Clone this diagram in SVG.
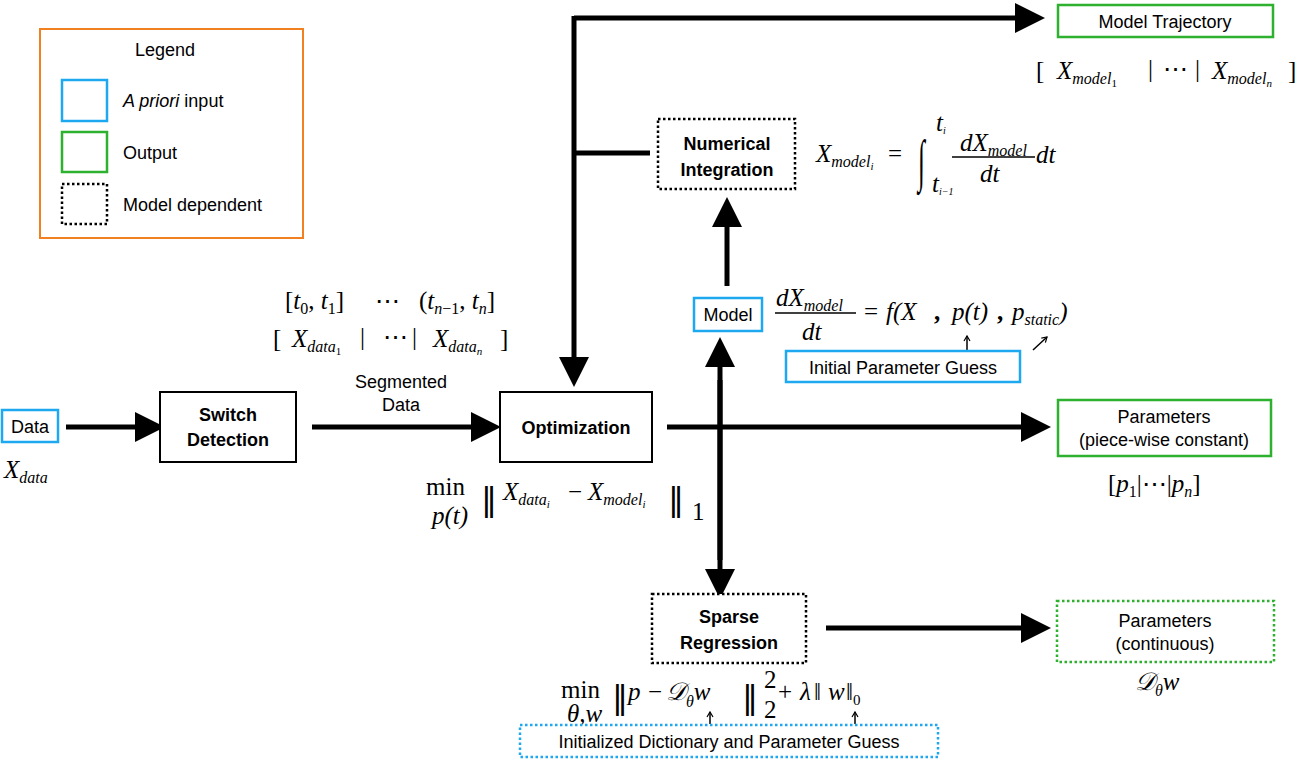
<svg xmlns="http://www.w3.org/2000/svg" width="1301" height="762" viewBox="0 0 1301 762">
<defs>
<marker id="ah" markerWidth="6" markerHeight="6" refX="1" refY="3" orient="auto" markerUnits="strokeWidth"><path d="M0,0 L6,3 L0,6 z" fill="#000"/></marker>
<marker id="sa" markerWidth="8" markerHeight="8" refX="6" refY="4" orient="auto" markerUnits="userSpaceOnUse"><path d="M1,1 L6,4 L1,7" fill="none" stroke="#000" stroke-width="1.2"/></marker>
<style>
.s{font-family:"Liberation Sans",Arial,sans-serif;font-size:18px;fill:#000;text-anchor:middle}
.b{font-weight:bold}
.m{font-family:"Liberation Serif","Times New Roman",serif;font-size:25px;font-style:italic;fill:#000}
.mu{font-family:"Liberation Serif","Times New Roman",serif;font-size:25px;fill:#000}
.sub{font-size:16px}
.ss{font-size:11px}
.bar{font-family:"DejaVu Sans",sans-serif;font-size:32px;fill:#000}
.bx{fill:#fff;stroke:#000;stroke-width:2}
.dot{fill:#fff;stroke:#000;stroke-width:2.5;stroke-dasharray:2.5 2.5}
.blue{fill:#fff;stroke:#1ea8f0;stroke-width:2.5}
.bdot{fill:#fff;stroke:#1ea8f0;stroke-width:2.5;stroke-dasharray:2.5 2.5}
.green{fill:#fff;stroke:#2eb12e;stroke-width:2.5}
.gdot{fill:#fff;stroke:#2eb12e;stroke-width:2.5;stroke-dasharray:2.5 2.5}
.c{fill:none;stroke:#000;stroke-width:5}
.t{fill:none;stroke:#000;stroke-width:1.5}
</style>
</defs>
<rect width="1301" height="762" fill="#fff"/>
<g id="legend">
<rect x="40" y="29" width="263" height="209" fill="#fff" stroke="#f08020" stroke-width="2"/>
<text class="s" x="165" y="56">Legend</text>
<rect class="blue" x="62" y="80" width="45" height="41"/>
<rect class="green" x="62" y="132" width="45" height="40"/>
<rect class="dot" x="62" y="184" width="45" height="40"/>
<text class="s" x="123" y="107" style="text-anchor:start"><tspan font-style="italic">A priori</tspan> input</text>
<text class="s" x="123" y="159" style="text-anchor:start">Output</text>
<text class="s" x="123" y="211" style="text-anchor:start">Model dependent</text>
</g>
<g id="connectors">
<line class="c" x1="66" y1="427" x2="140" y2="427" marker-end="url(#ah)"/>
<line class="c" x1="312" y1="427" x2="476" y2="427" marker-end="url(#ah)"/>
<line class="c" x1="667" y1="427" x2="1026" y2="427" marker-end="url(#ah)"/>
<polyline class="c" points="574,18 1020,18" marker-end="url(#ah)"/>
<line class="c" x1="574" y1="16" x2="574" y2="362" marker-end="url(#ah)"/>
<line class="c" x1="574" y1="153" x2="650" y2="153"/>
<line class="c" x1="727" y1="286" x2="727" y2="222" marker-end="url(#ah)"/>
<line class="c" x1="720" y1="560" x2="720" y2="362" marker-end="url(#ah)"/>
<line class="c" x1="720" y1="380" x2="720" y2="574" marker-end="url(#ah)"/>
<line class="c" x1="826" y1="628" x2="1026" y2="628" marker-end="url(#ah)"/>
<line class="t" x1="967" y1="350" x2="967" y2="336" marker-end="url(#sa)"/>
<line class="t" x1="1033" y1="350" x2="1047" y2="337" marker-end="url(#sa)"/>
<line class="t" x1="710" y1="724" x2="710" y2="712" marker-end="url(#sa)"/>
<line class="t" x1="855" y1="724" x2="855" y2="712" marker-end="url(#sa)"/>
</g>
<g id="data"><rect class="blue" x="2" y="410" width="56" height="32"/><text class="s" x="30" y="433">Data</text>
<text class="m" x="4" y="478">X<tspan class="sub" dy="5">data</tspan></text></g>
<g id="switch"><rect class="bx" x="160" y="392" width="136" height="70"/><text class="s b" x="228" y="421">Switch</text><text class="s b" x="228" y="446">Detection</text></g>
<g id="segmented"><text class="s" x="401" y="388">Segmented</text><text class="s" x="401" y="411">Data</text>
<text class="mu" x="285" y="309">[<tspan font-style="italic">t</tspan><tspan class="sub" dy="5">0</tspan><tspan dy="-5">, </tspan><tspan font-style="italic">t</tspan><tspan class="sub" dy="5">1</tspan><tspan dy="-5">]</tspan></text>
<text class="mu" x="375" y="309">⋯</text>
<text class="mu" x="419" y="309">(<tspan font-style="italic">t</tspan><tspan class="sub" dy="5" font-style="italic">n</tspan><tspan class="sub">−1</tspan><tspan dy="-5">, </tspan><tspan font-style="italic">t</tspan><tspan class="sub" dy="5" font-style="italic">n</tspan><tspan dy="-5">]</tspan></text>
<text class="mu" x="273" y="347">[</text>
<text class="m" x="292" y="347">X<tspan class="sub" dy="5">data</tspan><tspan class="ss" font-style="normal" dy="3">1</tspan></text>
<text class="mu" x="360" y="345" font-size="14">|</text><text class="mu" x="383" y="345" font-size="14">⋯</text><text class="mu" x="412" y="345" font-size="14">|</text>
<text class="m" x="433" y="347">X<tspan class="sub" dy="5">data</tspan><tspan class="ss" dy="3">n</tspan></text>
<text class="mu" x="500" y="347">]</text></g>
<g id="optimization"><rect class="bx" x="500" y="392" width="152" height="70"/><text class="s b" x="576" y="434">Optimization</text>
<text class="mu" x="426" y="495">min</text><text class="m" x="432" y="524" font-size="15">p(t)</text>
<text class="bar" x="481" y="510">‖</text>
<text class="m" x="503" y="500">X<tspan class="sub" dy="5">data</tspan><tspan class="ss" dy="3">i</tspan></text>
<text class="mu" x="568" y="500">−</text>
<text class="m" x="588" y="500">X<tspan class="sub" dy="5">model</tspan><tspan class="ss" dy="3">i</tspan></text>
<text class="bar" x="668" y="510">‖</text>
<text class="mu" x="692" y="520" font-size="16">1</text></g>
<g id="trajectory"><rect class="green" x="1058" y="5" width="215" height="32"/><text class="s" x="1165" y="28">Model Trajectory</text>
<text class="mu" x="1036" y="79">[</text>
<text class="m" x="1057" y="79">X<tspan class="sub" dy="5">model</tspan><tspan class="ss" font-style="normal" dy="3">1</tspan></text>
<text class="mu" x="1148" y="77" font-size="14">|</text><text class="mu" x="1163" y="77" font-size="14">⋯</text><text class="mu" x="1195" y="77" font-size="14">|</text>
<text class="m" x="1212" y="79">X<tspan class="sub" dy="5">model</tspan><tspan class="ss" dy="3">n</tspan></text>
<text class="mu" x="1288" y="79">]</text></g>
<g id="numint"><rect class="dot" x="658" y="119" width="137" height="70"/><text class="s b" x="727" y="150">Numerical</text><text class="s b" x="727" y="176">Integration</text>
<text class="m" x="816" y="162">X<tspan class="sub" dy="5">model</tspan><tspan class="ss" dy="3">i</tspan></text>
<text class="mu" x="888" y="162">=</text>
<text class="mu" transform="translate(918,180) scale(1,2.3)" x="0" y="0" font-size="34">∫</text>
<text class="m" x="936" y="131" font-size="14">t<tspan font-size="10" dy="3">i</tspan></text>
<text class="m" x="932" y="192" font-size="14">t<tspan font-size="10" dy="3">i−1</tspan></text>
<text class="m" x="960" y="151">dX<tspan class="sub" dy="5">model</tspan></text>
<line x1="952" y1="157" x2="1035" y2="157" stroke="#000" stroke-width="1.3"/>
<text class="m" x="980" y="182">dt</text><text class="m" x="1036" y="163">dt</text></g>
<g id="model"><rect class="blue" x="694" y="298" width="68" height="33"/><text class="s" x="728" y="321">Model</text>
<text class="m" x="776" y="306">dX<tspan class="sub" dy="5">model</tspan></text>
<line x1="775" y1="313" x2="856" y2="313" stroke="#000" stroke-width="1.3"/>
<text class="m" x="802" y="340">dt</text>
<text class="mu" x="864" y="320">=</text>
<text class="m" x="886" y="320">f(X</text>
<text class="mu b" x="934" y="320">,</text>
<text class="m" x="952" y="320">p(t)</text>
<text class="mu b" x="997" y="320">,</text>
<text class="m" x="1012" y="320">p<tspan font-size="16" dy="5">static</tspan><tspan dy="-5">)</tspan></text></g>
<g id="ipg"><rect class="blue" x="786" y="351" width="234" height="31"/><text class="s" x="903" y="374">Initial Parameter Guess</text></g>
<g id="params"><rect class="green" x="1058" y="400" width="213" height="56"/><text class="s" x="1164" y="423">Parameters</text><text class="s" x="1164" y="446">(piece-wise constant)</text>
<text class="mu" x="1108" y="492">[<tspan font-style="italic">p</tspan><tspan class="sub" dy="5">1</tspan><tspan dy="-5">|⋯|</tspan><tspan font-style="italic">p</tspan><tspan class="sub" font-style="italic" dy="5">n</tspan><tspan dy="-5">]</tspan></text></g>
<g id="sparse"><rect class="dot" x="652" y="594" width="154" height="69"/><text class="s b" x="729" y="623">Sparse</text><text class="s b" x="729" y="649">Regression</text>
<text class="mu" x="561" y="698">min</text><text class="m" x="567" y="722" font-size="15">θ,w</text>
<text class="bar" x="612" y="708">‖</text>
<text class="m" x="628" y="700">p</text>
<text class="mu" x="648" y="700">−</text>
<text class="m" x="666" y="700">𝒟<tspan font-size="16" dy="7">θ</tspan><tspan dy="-7">w</tspan></text>
<text class="bar" x="742" y="708">‖</text>
<text class="mu" x="764" y="688" font-size="15">2</text>
<text class="mu" x="764" y="718" font-size="15">2</text>
<text class="mu" x="778" y="700">+</text>
<text class="m" x="800" y="700">λ</text>
<text class="mu" x="814" y="700">‖</text>
<text class="m" x="828" y="700">w</text>
<text class="mu" x="846" y="700">‖<tspan font-size="15" dy="5">0</tspan></text></g>
<g id="idpg"><rect class="bdot" x="520" y="725" width="418" height="32"/><text class="s" x="729" y="748">Initialized Dictionary and Parameter Guess</text></g>
<g id="paramscont"><rect class="gdot" x="1057" y="601" width="217" height="61"/><text class="s" x="1165" y="627">Parameters</text><text class="s" x="1165" y="650">(continuous)</text>
<text class="m" x="1135" y="690">𝒟<tspan font-size="16" dy="6">θ</tspan><tspan dy="-6">w</tspan></text></g>
</svg>
